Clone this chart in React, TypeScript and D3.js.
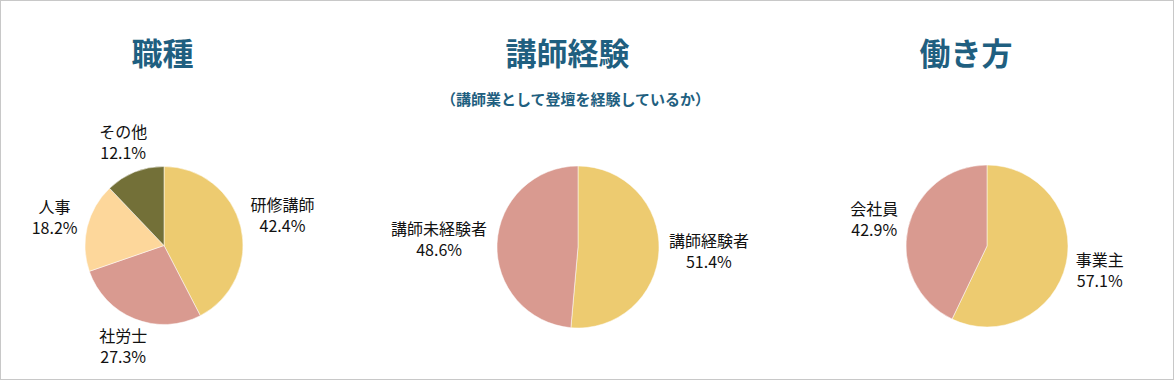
import React from "react";
import * as d3 from "d3";

const W = 1176;
const H = 382;

const titles = ["職種", "講師経験", "働き方"];
const subtitle = "（講師業として登壇を経験しているか）";

const jobLabels = ["研修講師", "社労士", "人事", "その他"];
const jobValues = [42.4, 27.3, 18.2, 12.1];
const jobColors = ["#EDCB70", "#D99A90", "#FDD79B", "#737038"];

const expLabels = ["講師経験者", "講師未経験者"];
const expValues = [51.4, 48.6];
const expColors = ["#EDCB70", "#D99A90"];

const workLabels = ["事業主", "会社員"];
const workValues = [57.1, 42.9];
const workColors = ["#EDCB70", "#D99A90"];

const FONT = "'Noto Sans CJK JP', 'Noto Sans', sans-serif";
const TITLE_COLOR = "#1F5F80";
const LABEL_SIZE = 16;
const LINE_GAP = 21;

let canvasCtx: CanvasRenderingContext2D | null = null;
function textWidth(s: string, size: number) {
  if (!canvasCtx) {
    const c = document.createElement("canvas");
    canvasCtx = c.getContext("2d");
  }
  if (!canvasCtx) return s.length * size;
  canvasCtx.font = `${size}px ${FONT}`;
  return canvasCtx.measureText(s).width;
}

type PieProps = {
  cx: number;
  cy: number;
  r: number;
  labels: string[];
  values: number[];
  colors: string[];
};

function Pie({ cx, cy, r, labels, values, colors }: PieProps) {
  const pie = d3.pie<number>().sort(null).value((d) => d);
  const arcs = pie(values);
  const arcGen = d3.arc<d3.PieArcDatum<number>>().innerRadius(0).outerRadius(r);
  const total = d3.sum(values);
  const offset = r + 10;
  return (
    <g transform={`translate(${cx},${cy})`}>
      {arcs.map((a, i) => (
        <path key={i} d={arcGen(a) || ""} fill={colors[i]} stroke="#fff" strokeWidth={0.5} />
      ))}
      {arcs.map((a, i) => {
        const mid = (a.startAngle + a.endAngle) / 2;
        const dx = Math.sin(mid);
        const dy = -Math.cos(mid);
        const pct = `${((values[i] / total) * 100).toFixed(1)}%`;
        const w = Math.max(textWidth(labels[i], LABEL_SIZE), textWidth(pct, LABEL_SIZE));
        const h = LABEL_SIZE + LINE_GAP + 2;
        const tx = Math.abs(dx) > 1e-6 ? w / 2 / Math.abs(dx) : Infinity;
        const ty = Math.abs(dy) > 1e-6 ? h / 2 / Math.abs(dy) : Infinity;
        const t = Math.min(tx, ty);
        const x = (offset + t) * dx;
        const y = (offset + t) * dy;
        return (
          <text
            key={`l${i}`}
            x={x}
            y={y}
            textAnchor="middle"
            fontFamily={FONT}
            fontSize={LABEL_SIZE}
            fill="#111"
          >
            <tspan x={x} dy={-LINE_GAP / 2 + 5}>{labels[i]}</tspan>
            <tspan x={x} dy={LINE_GAP}>{pct}</tspan>
          </text>
        );
      })}
    </g>
  );
}

export default function App() {
  return (
    <svg
      width={W}
      height={H}
      style={{ position: "absolute", left: 0, top: 0, background: "#fff" }}
    >
      <rect x={0.5} y={0.5} width={W - 3} height={H - 3} fill="#fff" stroke="#c8c8c8" />
      <g fontFamily={FONT} fontWeight="bold" fill={TITLE_COLOR} textAnchor="middle">
        <text x={162.5} y={65} fontSize={31}>{titles[0]}</text>
        <text x={567.5} y={65} fontSize={31}>{titles[1]}</text>
        <text x={966} y={65} fontSize={31}>{titles[2]}</text>
        <text x={575.5} y={105} fontSize={15}>{subtitle}</text>
      </g>
      <Pie cx={164} cy={245.5} r={79} labels={jobLabels} values={jobValues} colors={jobColors} />
      <Pie cx={578} cy={247} r={81} labels={expLabels} values={expValues} colors={expColors} />
      <Pie cx={987} cy={246} r={81} labels={workLabels} values={workValues} colors={workColors} />
    </svg>
  );
}
